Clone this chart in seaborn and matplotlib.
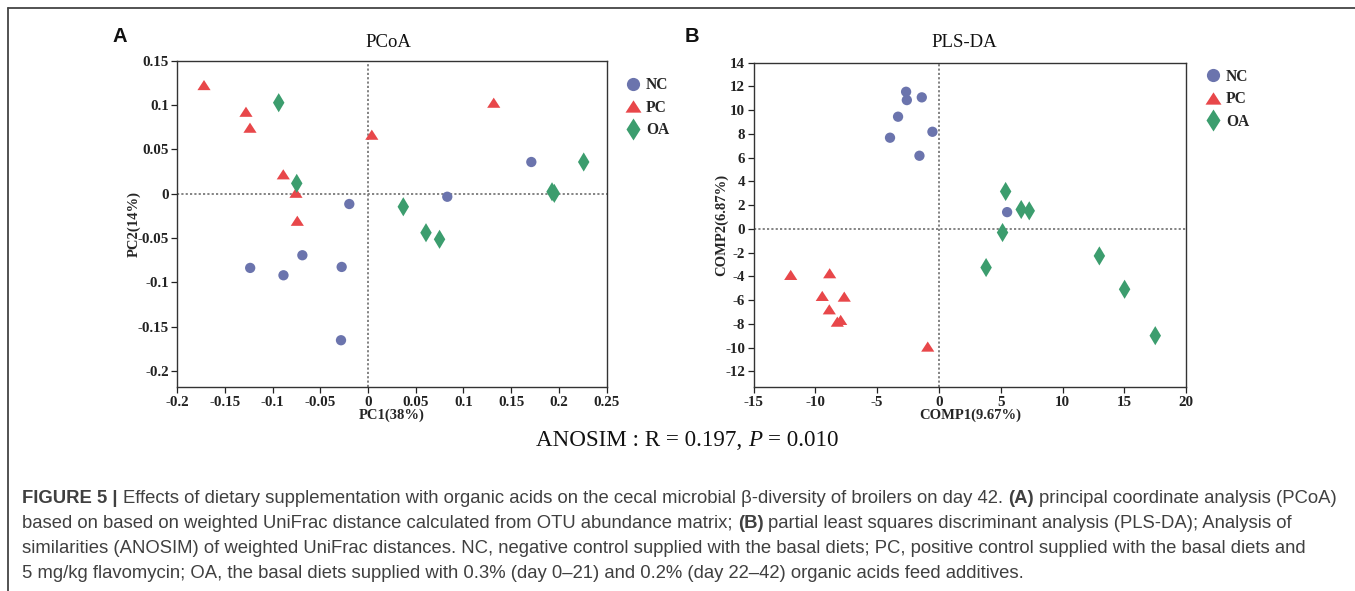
import numpy as np
import pandas as pd
import matplotlib
matplotlib.use("Agg")
import matplotlib.pyplot as plt
import seaborn as sns
from matplotlib.lines import Line2D
from matplotlib.text import Annotation

# ---------------- data ----------------
groups = ["NC", "PC", "OA"]

# Panel A: PCoA
pcoa_nc_x = [-0.1235, -0.0886, -0.0688, -0.0276, -0.0283, -0.0196, 0.0831, 0.1712]
pcoa_nc_y = [-0.0838, -0.0921, -0.0695, -0.0827, -0.1654, -0.0117, -0.0035, 0.0357]
pcoa_pc_x = [-0.1719, -0.1279, -0.1237, -0.0888, -0.0755, -0.0741, 0.0040, 0.1318]
pcoa_pc_y = [0.1225, 0.0924, 0.0744, 0.0218, 0.0010, -0.0306, 0.0665, 0.1026]
pcoa_oa_x = [-0.0936, -0.0747, 0.0370, 0.0608, 0.0750, 0.1929, 0.1953, 0.2261]
pcoa_oa_y = [0.1026, 0.0116, -0.0148, -0.0441, -0.0515, 0.0021, 0.0003, 0.0357]

# Panel B: PLS-DA
plsda_nc_x = [-2.66, -2.60, -1.39, -3.31, -3.96, -0.53, -1.58, 5.51]
plsda_nc_y = [11.55, 10.85, 11.08, 9.45, 7.68, 8.18, 6.16, 1.41]
plsda_pc_x = [-11.99, -8.84, -9.44, -7.66, -8.87, -8.22, -7.95, -0.91]
plsda_pc_y = [-3.88, -3.74, -5.65, -5.71, -6.78, -7.82, -7.67, -9.92]
plsda_oa_x = [5.39, 6.65, 7.30, 5.14, 3.81, 12.97, 15.01, 17.49]
plsda_oa_y = [3.15, 1.63, 1.52, -0.31, -3.26, -2.28, -5.09, -9.00]

pcoa_xticks = [-0.2, -0.15, -0.1, -0.05, 0, 0.05, 0.1, 0.15, 0.2, 0.25]
pcoa_xticklabels = ["-0.2", "-0.15", "-0.1", "-0.05", "0", "0.05", "0.1", "0.15", "0.2", "0.25"]
pcoa_yticks = [-0.2, -0.15, -0.1, -0.05, 0, 0.05, 0.1, 0.15]
pcoa_yticklabels = ["-0.2", "-0.15", "-0.1", "-0.05", "0", "0.05", "0.1", "0.15"]
plsda_xticks = [-15, -10, -5, 0, 5, 10, 15, 20]
plsda_yticks = [-12, -10, -8, -6, -4, -2, 0, 2, 4, 6, 8, 10, 12, 14]

caption_lines = [
    [("FIGURE 5 |", "bold"),
     ("Effects of dietary supplementation with organic acids on the cecal microbial \u03b2-diversity of broilers on day 42.", "normal"),
     ("(A)", "bold"), ("principal coordinate analysis (PCoA)", "normal")],
    [("based on based on weighted UniFrac distance calculated from OTU abundance matrix;", "normal"),
     ("(B)", "bold"), ("partial least squares discriminant analysis (PLS-DA); Analysis of", "normal")],
    [("similarities (ANOSIM) of weighted UniFrac distances. NC, negative control supplied with the basal diets; PC, positive control supplied with the basal diets and", "normal")],
    [("5 mg/kg flavomycin; OA, the basal diets supplied with 0.3% (day 0\u201321) and 0.2% (day 22\u201342) organic acids feed additives.", "normal")],
]

# ---------------- style ----------------
sns.set_theme(style="ticks")
plt.rcParams["font.family"] = ["Liberation Serif", "DejaVu Serif"]

colors = {"NC": "#6b74ad", "PC": "#e8474a", "OA": "#3c9d6e"}
tri = [(-1, -0.77), (1, -0.77), (0, 0.77), (-1, -0.77)]
markers = {"NC": "o", "PC": tri, "OA": "d"}
sizes = {"NC": 55, "PC": 90, "OA": 95}
leg_ms = {"NC": 9.5, "PC": 11.5, "OA": 11.5}

W, H = 1355, 591
fig = plt.figure(figsize=(W / 100, H / 100), dpi=100)


def px_axes(l, r, t, b):
    return fig.add_axes([l / W, 1 - b / H, (r - l) / W, (b - t) / H])


def make_df(xs, ys):
    rows = []
    for g, (xv, yv) in zip(groups, zip(xs, ys)):
        for a, b in zip(xv, yv):
            rows.append({"x": a, "y": b, "group": g})
    return pd.DataFrame(rows)


df_a = make_df([pcoa_nc_x, pcoa_pc_x, pcoa_oa_x], [pcoa_nc_y, pcoa_pc_y, pcoa_oa_y])
df_b = make_df([plsda_nc_x, plsda_pc_x, plsda_oa_x], [plsda_nc_y, plsda_pc_y, plsda_oa_y])

tick_font = dict(family="Liberation Serif", weight="bold", size=10.8)
label_font = dict(family="Liberation Serif", weight="bold", size=10.5)


def draw_panel(ax, df, xlim, ylim, xticks, xtl, yticks, ytl, xlabel, ylabel):
    ax.axhline(0, color="#7a7a7a", lw=1.3, ls=(0, (1.2, 1.2)), zorder=1)
    ax.axvline(0, color="#7a7a7a", lw=1.3, ls=(0, (1.2, 1.2)), zorder=1)
    for g in groups:
        sub = df[df["group"] == g]
        sns.scatterplot(data=sub, x="x", y="y", ax=ax, color=colors[g], marker=markers[g],
                        s=sizes[g], edgecolor="none", linewidth=0, legend=False, zorder=3)
    ax.set_xlim(*xlim)
    ax.set_ylim(*ylim)
    ax.set_xticks(xticks)
    ax.set_xticklabels(xtl, fontdict=tick_font)
    ax.set_yticks(yticks)
    ax.set_yticklabels(ytl, fontdict=tick_font)
    ax.set_xlabel(xlabel, fontdict=label_font, labelpad=0)
    ax.set_ylabel(ylabel, fontdict=label_font, labelpad=-2)
    ax.tick_params(direction="out", length=4, width=0.9, color="#222222", pad=2, labelcolor="#222222")
    for sp in ax.spines.values():
        sp.set_color("#333333")
        sp.set_linewidth(1.0)


axA = px_axes(177.2, 606.5, 60.7, 387.3)
draw_panel(axA, df_a, (-0.2, 0.25), (-0.2185, 0.15), pcoa_xticks, pcoa_xticklabels,
           pcoa_yticks, pcoa_yticklabels, "PC1(38%)", "PC2(14%)")

axB = px_axes(753.5, 1186.3, 62.7, 387.3)
draw_panel(axB, df_b, (-15, 20), (-13.35, 14), plsda_xticks, [str(v) for v in plsda_xticks],
           plsda_yticks, [str(v) for v in plsda_yticks], "COMP1(9.67%)", "COMP2(6.87%)")


def add_legend(ax, x_left, y_mid):
    handles = [Line2D([0], [0], marker=markers[g], color="none", markerfacecolor=colors[g],
                      markeredgecolor="none", markersize=leg_ms[g], linestyle="none") for g in groups]
    ax.legend(handles, groups, loc="center left", bbox_to_anchor=(x_left / W, 1 - y_mid / H),
              bbox_transform=fig.transFigure, frameon=False, handlelength=1.0, handletextpad=0.35,
              labelspacing=0.42, borderpad=0, borderaxespad=0,
              prop=dict(family="Liberation Serif", weight="bold", size=11.2))


add_legend(axA, 625, 107.5)
add_legend(axB, 1205, 99.3)

# titles and panel letters
fig.text(388 / W, 1 - 46.7 / H, "PCoA", ha="center", va="baseline", fontsize=13.5,
         family="Liberation Serif", color="#111111")
fig.text(964 / W, 1 - 46.7 / H, "PLS-DA", ha="center", va="baseline", fontsize=13.5,
         family="Liberation Serif", color="#111111")
fig.text(120 / W, 1 - 37 / H, "A", ha="center", va="center", fontsize=14.5, weight="bold",
         family="Liberation Sans", color="#111111")
fig.text(692 / W, 1 - 37 / H, "B", ha="center", va="center", fontsize=14.5, weight="bold",
         family="Liberation Sans", color="#111111")

# frame lines
fig.add_artist(Line2D([8 / W, 1.0], [1 - 8 / H, 1 - 8 / H], transform=fig.transFigure,
                      color="#444444", lw=1.3))
fig.add_artist(Line2D([8 / W, 8 / W], [1 - 8 / H, 0], transform=fig.transFigure,
                      color="#444444", lw=1.3))


def chain_text(parts, x, y, size, family, color, gap_pt):
    first = True
    prev = None
    for txt, style in parts:
        kw = dict(fontsize=size, family=family, color=color)
        if style == "bold":
            kw["weight"] = "bold"
        elif style == "italic":
            kw["style"] = "italic"
        if first:
            prev = fig.text(x / W, 1 - y / H, txt, ha="left", va="bottom", **kw)
            first = False
        else:
            a = Annotation(txt, xy=(1, 0), xycoords=prev, xytext=(gap_pt, 0),
                           textcoords="offset points", ha="left", va="bottom", **kw)
            fig.add_artist(a)
            prev = a


# ANOSIM line
chain_text([("ANOSIM : R = 0.197,", "normal"), ("P", "italic"), ("= 0.010", "normal")],
           536, 451, 16.6, "Liberation Serif", "#111111", 4.1)

# caption
cap_y = [507, 532, 557, 582]
for line, yb in zip(caption_lines, cap_y):
    chain_text(line, 22, yb, 13.35, "Liberation Sans", "#404040", 3.7)

fig.savefig("out.png", dpi=100)
